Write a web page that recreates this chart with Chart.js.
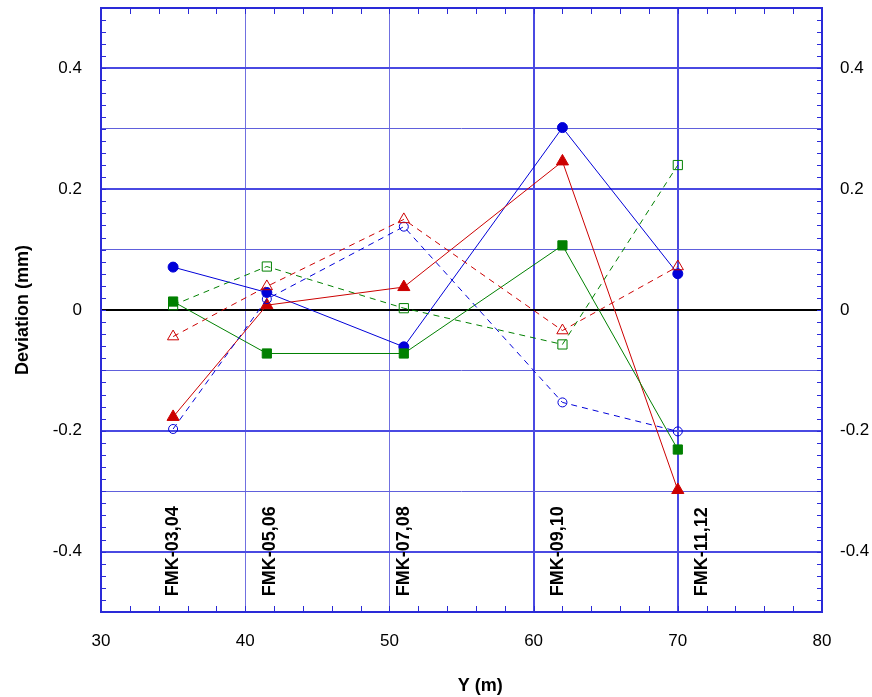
<!DOCTYPE html>
<html>
<head>
<meta charset="utf-8">
<script src="https://cdn.jsdelivr.net/npm/chart.js@4/dist/chart.umd.min.js"></script>
<style>
  html, body { margin: 0; padding: 0; background: #fff; }
</style>
</head>
<body>
<canvas id="chart" width="872" height="697"></canvas>
<script>
'use strict'

//Data ---------------------------------------------------------
const positionsY = [35, 41.5, 51, 62, 70];
const blueSolid = [0.071, 0.029, -0.061, 0.302, 0.060];
const blueDashed = [-0.197, 0.018, 0.138, -0.153, -0.201];
const redSolid = [-0.177, 0.008, 0.038, 0.246, -0.298];
const redDashed = [-0.044, 0.039, 0.150, -0.034, 0.072];
const greenSolid = [0.014, -0.072, -0.072, 0.107, -0.231];
const greenDashed = [0.008, 0.072, 0.003, -0.057, 0.240];

const holeLabels = ['FMK-03,04', 'FMK-05,06', 'FMK-07,08', 'FMK-09,10', 'FMK-11,12'];
const holeLabelX = [35, 41.7, 51, 61.7, 71.7];
const holeLabelBase = -0.474;

const xTickValues = [30, 40, 50, 60, 70, 80];
const xTickLabels = ['30', '40', '50', '60', '70', '80'];
const yTickValues = [-0.4, -0.2, 0, 0.2, 0.4];
const yTickLabels = ['-0.4', '-0.2', '0', '0.2', '0.4'];
const xTitle = 'Y (m)';
const yTitle = 'Deviation (mm)';

//Helpers ---------------------------------------------------------
const BLUE = '#0000d8';
const RED = '#cc0000';
const GREEN = '#008000';
const FRAME = '#2a2ad8';
const FONT = 'Liberation Sans, Arial, sans-serif';

function toPoints(values) {
  return values.map((v, i) => ({ x: positionsY[i], y: v }));
}

function series(values, color, style, filled, radius, dashed) {
  return {
    data: toPoints(values),
    borderColor: color,
    borderWidth: 1,
    borderDash: dashed ? [6, 5] : [],
    pointStyle: style,
    pointRadius: radius,
    pointBorderWidth: 1,
    pointBorderColor: color,
    pointBackgroundColor: filled ? color : 'rgba(0,0,0,0)',
    showLine: true,
    tension: 0
  };
}

function tickLabel(values, labels, v) {
  for (let i = 0; i < values.length; i++) {
    if (Math.abs(values[i] - v) < 1e-6) return labels[i];
  }
  return '';
}

// keep the plot box fixed: no extra room for half-labels at the ends
function fixWidth(w) {
  return (scale) => {
    scale.width = w;
    scale.paddingTop = 0;
    scale.paddingBottom = 0;
  };
}

//Plugins ---------------------------------------------------------
const holeLabelPlugin = {
  id: 'holeLabels',
  beforeDatasetsDraw(chart) {
    const ctx = chart.ctx;
    const xs = chart.scales.x;
    const ys = chart.scales.y;
    ctx.save();
    ctx.fillStyle = '#000';
    ctx.font = 'bold 18px ' + FONT;
    ctx.textAlign = 'left';
    ctx.textBaseline = 'middle';
    for (let i = 0; i < holeLabels.length; i++) {
      ctx.save();
      ctx.translate(xs.getPixelForValue(holeLabelX[i]), ys.getPixelForValue(holeLabelBase));
      ctx.rotate(-Math.PI / 2);
      ctx.fillText(holeLabels[i], 0, 0);
      ctx.restore();
    }
    ctx.restore();
  }
};

const framePlugin = {
  id: 'frame',
  afterDraw(chart) {
    const ctx = chart.ctx;
    const a = chart.chartArea;
    const xs = chart.scales.x;
    const ys = chart.scales.y;
    ctx.save();
    ctx.strokeStyle = FRAME;
    ctx.lineWidth = 1;
    ctx.beginPath();
    // inward minor ticks, x every 2, y every 0.02
    for (let k = 0; k <= 25; k++) {
      const px = Math.round(xs.getPixelForValue(30 + k * 2)) + 0.5;
      ctx.moveTo(px, a.top);
      ctx.lineTo(px, a.top + 6);
      ctx.moveTo(px, a.bottom);
      ctx.lineTo(px, a.bottom - 6);
    }
    for (let k = 0; k <= 50; k++) {
      const py = Math.round(ys.getPixelForValue(-0.5 + k * 0.02)) + 0.5;
      ctx.moveTo(a.left, py);
      ctx.lineTo(a.left + 5, py);
      ctx.moveTo(a.right, py);
      ctx.lineTo(a.right - 5, py);
    }
    ctx.stroke();
    ctx.lineWidth = 2;
    ctx.strokeRect(a.left, a.top, a.right - a.left, a.bottom - a.top);

    // x axis title sits a little right of centre in the original
    ctx.fillStyle = '#000';
    ctx.font = 'bold 18px ' + FONT;
    ctx.textAlign = 'center';
    ctx.textBaseline = 'middle';
    ctx.fillText(xTitle, xs.getPixelForValue(31.3) + (a.right - a.left) / 2, 686);
    ctx.restore();
  }
};

//Chart ---------------------------------------------------------
const chartElem = document.getElementById('chart');

new Chart(chartElem, {
  type: 'line',
  data: {
    datasets: [
      series(greenDashed, GREEN, 'rect', false, 6.5, true),
      series(redDashed, RED, 'triangle', false, 6.5, true),
      series(blueDashed, BLUE, 'circle', false, 4.5, true),
      series(greenSolid, GREEN, 'rect', true, 6.5, false),
      series(redSolid, RED, 'triangle', true, 7, false),
      series(blueSolid, BLUE, 'circle', true, 5, false)
    ]
  },
  options: {
    responsive: false,
    animation: false,
    layout: { padding: { top: 7, right: 0, left: 0, bottom: 0 } },
    plugins: {
      legend: { display: false },
      tooltip: { enabled: false }
    },
    scales: {
      x: {
        type: 'linear',
        min: 30,
        max: 80,
        afterFit(scale) {
          scale.height = 85;
          scale.paddingLeft = 0;
          scale.paddingRight = 0;
        },
        ticks: {
          stepSize: 10,
          padding: 19,
          color: '#000',
          font: { family: FONT, size: 17 },
          maxRotation: 0,
          callback: (v) => tickLabel(xTickValues, xTickLabels, v)
        },
        grid: {
          drawTicks: false,
          color: (c) => (c.tick.value >= 60 ? '#4a4ae2' : '#7070e0'),
          lineWidth: (c) => (c.tick.value >= 60 ? 2 : 1)
        },
        border: { display: false }
      },
      y: {
        type: 'linear',
        position: 'left',
        min: -0.5,
        max: 0.5,
        afterFit: fixWidth(101),
        ticks: {
          stepSize: 0.1,
          padding: 19,
          color: '#000',
          font: { family: FONT, size: 17 },
          callback: (v) => tickLabel(yTickValues, yTickLabels, v)
        },
        grid: {
          drawTicks: false,
          color: (c) => {
            const v = Math.round(c.tick.value * 10);
            if (v === 0) return '#000';
            return v % 2 === 0 ? '#4a4ae2' : '#6060dc';
          },
          lineWidth: (c) => {
            const v = Math.round(c.tick.value * 10);
            if (v === 0) return 2;
            return v % 2 === 0 ? 2 : 1;
          }
        },
        border: { display: false },
        title: {
          display: true,
          text: yTitle,
          color: '#000',
          font: { family: FONT, size: 18, weight: 'bold' },
          padding: { top: 12, bottom: 0 }
        }
      },
      y2: {
        type: 'linear',
        position: 'right',
        min: -0.5,
        max: 0.5,
        afterFit: fixWidth(50),
        ticks: {
          stepSize: 0.1,
          padding: 18,
          color: '#000',
          font: { family: FONT, size: 17 },
          callback: (v) => tickLabel(yTickValues, yTickLabels, v)
        },
        grid: { display: false, drawTicks: false },
        border: { display: false }
      }
    }
  },
  plugins: [holeLabelPlugin, framePlugin]
});
</script>
</body>
</html>
